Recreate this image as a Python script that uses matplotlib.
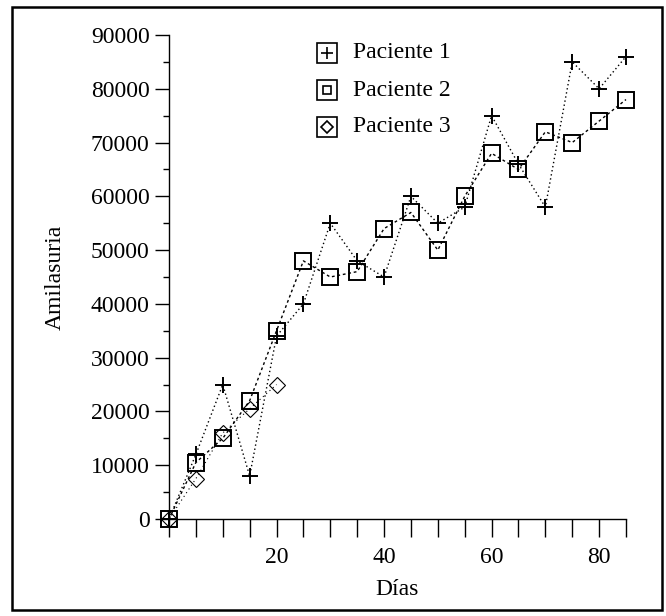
import matplotlib
matplotlib.use("Agg")
import matplotlib.pyplot as plt
from matplotlib.ticker import FixedLocator, MultipleLocator
from matplotlib.patches import Rectangle

plt.rcParams['font.family'] = ['Liberation Serif', 'DejaVu Serif']

# Data (days and amylasuria values)
dias_p1 = [0, 5, 10, 15, 20, 25, 30, 35, 40, 45, 50, 55, 60, 65, 70, 75, 80, 85]
p1 = [0, 12000, 25000, 8000, 34000, 40000, 55000, 48000, 45000, 60000, 55000,
      58000, 75000, 66000, 58000, 85000, 80000, 86000]
dias_p2 = [0, 5, 10, 15, 20, 25, 30, 35, 40, 45, 50, 55, 60, 65, 70, 75, 80, 85]
p2 = [0, 10500, 15000, 22000, 35000, 48000, 45000, 46000, 54000, 57000, 50000,
      60000, 68000, 65000, 72000, 70000, 74000, 78000]
dias_p3 = [0, 5, 10, 15, 20]
p3 = [0, 7500, 16000, 20500, 25000]

labels = ['Paciente 1', 'Paciente 2', 'Paciente 3']
x_ticks = [20, 40, 60, 80]
y_ticks = [0, 10000, 20000, 30000, 40000, 50000, 60000, 70000, 80000, 90000]

FS = 17
W, H = 666, 616
fig = plt.figure(figsize=(W / 100, H / 100), dpi=100)
ax = fig.add_axes([169 / W, (H - 519) / H, (626 - 169) / W, (519 - 35) / H])

ax.plot(dias_p1, p1, linestyle=(0, (1, 2)), color='black', lw=1.0,
        marker='+', ms=11, mew=1.4, clip_on=False)
ax.plot(dias_p2, p2, linestyle=(0, (2, 2)), color='black', lw=1.0,
        marker='s', ms=11, mfc='none', mec='black', mew=1.4, clip_on=False)
ax.plot(dias_p3, p3, linestyle=(0, (1, 3)), color='black', lw=0.8,
        marker='D', ms=8, mfc='none', mec='black', mew=0.8, clip_on=False)

ax.set_xlim(0, 85)
ax.set_ylim(0, 90000)
for s in ['top', 'right']:
    ax.spines[s].set_visible(False)
for s in ['left', 'bottom']:
    ax.spines[s].set_linewidth(1.0)
    ax.spines[s].set_linestyle((0, (3, 1)))

ax.xaxis.set_major_locator(FixedLocator(x_ticks))
ax.xaxis.set_minor_locator(MultipleLocator(5))
ax.set_xticklabels([str(v) for v in x_ticks])
ax.yaxis.set_major_locator(FixedLocator(y_ticks))
ax.yaxis.set_minor_locator(MultipleLocator(5000))
ax.set_yticklabels([str(v) for v in y_ticks])

ax.tick_params(axis='x', which='both', direction='out', length=13, width=1.0,
               labelsize=FS, pad=7)
ax.tick_params(axis='y', which='major', direction='out', length=10, width=1.0,
               labelsize=FS, pad=4)
ax.tick_params(axis='y', which='minor', direction='out', length=4, width=1.0)

ax.set_xlabel('Días', fontsize=FS, labelpad=8)
ax.set_ylabel('Amilasuria', fontsize=FS, labelpad=18)

# Legend drawn manually: boxed marker + text
inner = [dict(marker='+', ms=8, mew=1.2),
         dict(marker='s', ms=6, mfc='none', mew=1.2),
         dict(marker='D', ms=6, mfc='none', mew=1.2)]
lx = (327 - 169) / (626 - 169)
for i, lab in enumerate(labels):
    ly = (519 - (53 + 37 * i)) / (519 - 35)
    ax.plot([lx], [ly], transform=ax.transAxes, marker='s', ms=14.5,
            mfc='none', mec='black', mew=1.2, clip_on=False, linestyle='none')
    ax.plot([lx], [ly], transform=ax.transAxes, color='black',
            clip_on=False, linestyle='none', **inner[i])
    ax.text(lx + 0.057, ly, lab, transform=ax.transAxes, fontsize=FS,
            va='center', ha='left')

# Figure border
fig.patches.append(Rectangle((12 / W, 1 - 610 / H), (662 - 12) / W, (610 - 7) / H,
                             transform=fig.transFigure, fill=False,
                             edgecolor='black', lw=1.8))

fig.savefig('out.png', dpi=100)
